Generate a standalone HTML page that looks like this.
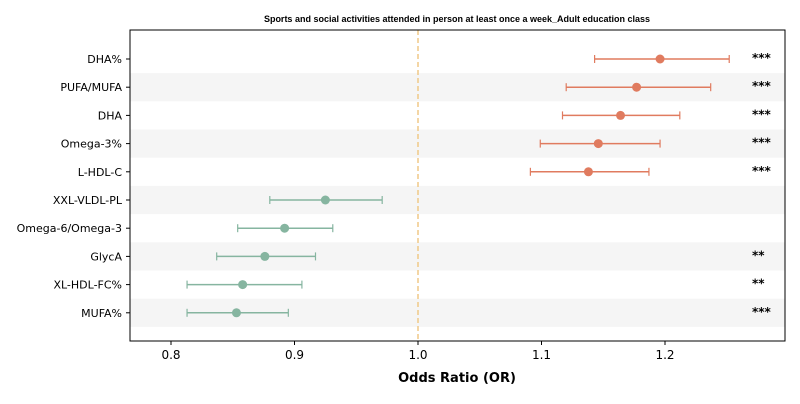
<!DOCTYPE html>
<html><head><meta charset="utf-8"><style>
body{margin:0;background:#fff;font-family:"DejaVu Sans","Liberation Sans",sans-serif}
</style></head><body>
<svg id="chart" width="800" height="400" xmlns="http://www.w3.org/2000/svg" font-family="DejaVu Sans, Liberation Sans, sans-serif"></svg>
<script>
const labels=["DHA%","PUFA/MUFA","DHA","Omega-3%","L-HDL-C","XXL-VLDL-PL","Omega-6/Omega-3","GlycA","XL-HDL-FC%","MUFA%"];
const orValues=[1.196,1.177,1.164,1.146,1.138,0.925,0.892,0.876,0.858,0.853];
const ciLow=[1.143,1.120,1.117,1.099,1.091,0.880,0.854,0.837,0.813,0.813];
const ciHigh=[1.252,1.237,1.212,1.196,1.187,0.971,0.931,0.917,0.906,0.895];
const stars=["***","***","***","***","***","","","**","**","***"];
const xTicks=[0.8,0.9,1.0,1.1,1.2];
const NS="http://www.w3.org/2000/svg";
const svg=document.getElementById('chart');
const L=130,R=785,T=30,B=341;
const x=v=>171+(v-0.8)*1235;
const y=i=>59+i*28.2;
function mk(t,a,p){const e=document.createElementNS(NS,t);for(const k in a)e.setAttribute(k,a[k]);(p||svg).appendChild(e);return e;}
labels.forEach((l,i)=>{if(i%2===1){const r=mk('rect',{x:L,y:y(i)-14.1,width:R-L,height:28.2,fill:'#f5f5f5'});

}});
const ref=mk('line',{x1:x(1),x2:x(1),y1:T,y2:B,stroke:'#f0c987','stroke-width':1.5,'stroke-dasharray':'5,3'});


labels.forEach((l,i)=>{
 const c=orValues[i]>1?'#e07b5f':'#86b5a0';
 const g=mk('g',{});
 
 
 mk('line',{x1:x(ciLow[i]),x2:x(ciHigh[i]),y1:y(i),y2:y(i),stroke:c,'stroke-width':1.5},g);
 mk('line',{x1:x(ciLow[i]),x2:x(ciLow[i]),y1:y(i)-4,y2:y(i)+4,stroke:c,'stroke-width':1.2},g);
 mk('line',{x1:x(ciHigh[i]),x2:x(ciHigh[i]),y1:y(i)-4,y2:y(i)+4,stroke:c,'stroke-width':1.2},g);
 mk('circle',{cx:x(orValues[i]),cy:y(i),r:4.5,fill:c},g);
 const t=mk('text',{x:L-8,y:y(i)+4,'text-anchor':'end','font-size':11,fill:'#000'});t.textContent=l;
 
 
 if(stars[i]){const s=mk('text',{x:752,y:y(i)+3,'font-size':12,'font-weight':'bold',fill:'#000'});s.textContent=stars[i];
 
 }
 mk('line',{x1:L-4,x2:L,y1:y(i),y2:y(i),stroke:'#000'});
});
const ax=mk('rect',{x:L,y:T,width:R-L,height:B-T,fill:'none',stroke:'#000','stroke-width':1});


xTicks.forEach(v=>{mk('line',{x1:x(v),x2:x(v),y1:B,y2:B+4,stroke:'#000'});
 const t=mk('text',{x:x(v),y:B+18,'text-anchor':'middle','font-size':12});t.textContent=v.toFixed(1);
 
 });
const xt=mk('text',{x:457,y:382,'text-anchor':'middle','font-size':13,'font-weight':'bold'});xt.textContent='Odds Ratio (OR)';


const tt=mk('text',{x:457,y:22,'text-anchor':'middle','font-size':9,'font-weight':'bold','font-family':'Liberation Sans, sans-serif'});tt.textContent='Sports and social activities attended in person at least once a week_Adult education class';


</script>
</body></html>
